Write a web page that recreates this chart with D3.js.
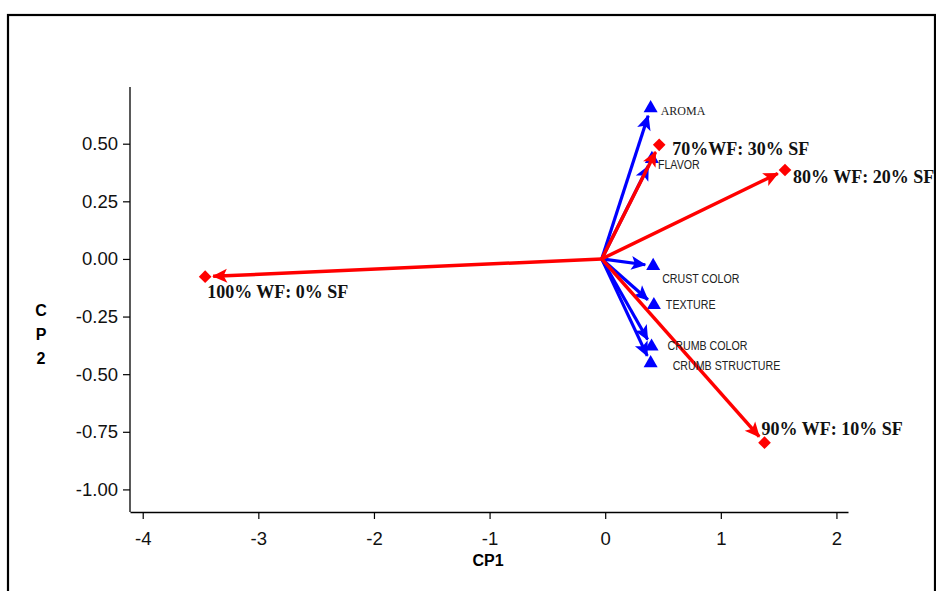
<!DOCTYPE html>
<html>
<head>
<meta charset="utf-8">
<script src="https://cdn.jsdelivr.net/npm/d3@7"></script>
<style>
  html, body { margin: 0; padding: 0; background: #fff; }
  svg { display: block; }
</style>
</head>
<body>
<svg id="chart" width="936" height="591"></svg>
<script>
// ---- data ----
const xTicks = [-4, -3, -2, -1, 0, 1, 2];
const yTicks = [0.5, 0.25, 0, -0.25, -0.5, -0.75, -1.0];

const origin = [-0.03, 0.0];

const sampleLabels = ["100% WF: 0% SF", "70%WF: 30% SF", "80% WF: 20% SF", "90% WF: 10% SF"];
const sampleCP1 = [-3.46, 0.467, 1.555, 1.378];
const sampleCP2 = [-0.077, 0.495, 0.386, -0.797];

const attributeLabels = ["AROMA", "FLAVOR", "CRUST COLOR", "TEXTURE", "CRUMB COLOR", "CRUMB STRUCTURE"];
const attributeCP1 = [0.393, 0.404, 0.415, 0.421, 0.401, 0.393];
const attributeCP2 = [0.654, 0.434, -0.030, -0.200, -0.380, -0.452];

// ---- layout ----
const svg = d3.select("#chart");
const x = d3.scaleLinear().domain([-4.11, 2.10]).range([130, 848]);
const y = d3.scaleLinear().domain([-1.098, 0.746]).range([512, 87]);

const RED = "#ff0000", BLUE = "#0000ff";

// outer frame
svg.append("rect")
  .attr("x", 8).attr("y", 15).attr("width", 927).attr("height", 600)
  .attr("fill", "none").attr("stroke", "#000").attr("stroke-width", 2.2);

// axes
const hyphen = f => d => f(d).replace("\u2212", "-");
const xAxis = d3.axisBottom(x).tickValues(xTicks).tickFormat(hyphen(d3.format("d"))).tickSizeInner(7).tickSizeOuter(0).tickPadding(13);
const yAxis = d3.axisLeft(y).tickValues(yTicks).tickFormat(hyphen(d3.format(".2f"))).tickSizeInner(7).tickSizeOuter(0).tickPadding(5);

const gx = svg.append("g").attr("transform", "translate(0,512)").call(xAxis);
const gy = svg.append("g").attr("transform", "translate(130,0)").call(yAxis);
[gx, gy].forEach(g => {
  g.select(".domain").attr("stroke", "#000").attr("stroke-width", 1.3);
  g.selectAll(".tick line").attr("stroke", "#000").attr("stroke-width", 1.2);
  g.selectAll(".tick text").attr("fill", "#111")
    .style("font-family", "'Liberation Sans', Arial, sans-serif").style("font-size", "18.5px");
});
gy.select(".domain").attr("d", `M0,${y.range()[1]}V${y.range()[0]}`);

// axis titles
svg.append("text").attr("x", 488).attr("y", 566).attr("text-anchor", "middle")
  .style("font-family", "'Liberation Sans', Arial, sans-serif").style("font-size", "16px").style("font-weight", "bold")
  .text("CP1");
const cp2 = svg.append("text").attr("text-anchor", "middle")
  .style("font-family", "'Liberation Sans', Arial, sans-serif").style("font-size", "16px").style("font-weight", "bold");
["C", "P", "2"].forEach((c, i) => {
  cp2.append("tspan").attr("x", 41).attr("y", 316 + i * 24).text(c);
});

// arrow markers
const defs = svg.append("defs");
function marker(id, color) {
  defs.append("marker").attr("id", id)
    .attr("viewBox", "-1 -8 17 16").attr("refX", 14).attr("refY", 0)
    .attr("markerWidth", 17).attr("markerHeight", 16)
    .attr("markerUnits", "userSpaceOnUse").attr("orient", "auto")
    .append("path").attr("d", "M0,-7L15,0L0,7L3.5,0Z").attr("fill", color);
}
marker("arrBlue", BLUE);
marker("arrRed", RED);

function shortened(px, py, gap) {
  const ox = x(origin[0]), oy = y(origin[1]);
  const dx = px - ox, dy = py - oy, L = Math.hypot(dx, dy);
  return [ox, oy, px - dx / L * gap, py - dy / L * gap];
}

const attrs = attributeLabels.map((l, i) => ({ label: l, cx: attributeCP1[i], cy: attributeCP2[i] }));
const samples = sampleLabels.map((l, i) => ({ label: l, cx: sampleCP1[i], cy: sampleCP2[i] }));

// blue arrows
svg.append("g").selectAll("line").data(attrs).join("line")
  .each(function (d) {
    const s = shortened(x(d.cx), y(d.cy), 8);
    d3.select(this).attr("x1", s[0]).attr("y1", s[1]).attr("x2", s[2]).attr("y2", s[3]);
  })
  .attr("stroke", BLUE).attr("stroke-width", 3.2).attr("marker-end", "url(#arrBlue)");

svg.append("g").selectAll("path").data(attrs).join("path")
  .attr("transform", d => `translate(${x(d.cx)},${y(d.cy)})`)
  .attr("d", d3.symbol(d3.symbolTriangle, 85)())
  .attr("fill", BLUE);

// red arrows
svg.append("g").selectAll("line").data(samples).join("line")
  .each(function (d) {
    const s = shortened(x(d.cx), y(d.cy), 8);
    d3.select(this).attr("x1", s[0]).attr("y1", s[1]).attr("x2", s[2]).attr("y2", s[3]);
  })
  .attr("stroke", RED).attr("stroke-width", 3.5).attr("marker-end", "url(#arrRed)");

svg.append("g").selectAll("path").data(samples).join("path")
  .attr("transform", d => `translate(${x(d.cx)},${y(d.cy)}) rotate(45)`)
  .attr("d", d3.symbol(d3.symbolSquare, 80)())
  .attr("fill", RED);

// labels
const attrOffsets = [[10, 7], [6, 10], [9, 17], [12, 4], [16, 3], [22, 7]];
svg.append("g").selectAll("text").data(attrs).join("text")
  .attr("transform", (d, i) => `translate(${x(d.cx) + attrOffsets[i][0]},${y(d.cy) + attrOffsets[i][1]}) scale(${i === 0 ? 1 : 0.82},1)`)
  .attr("fill", "#222")
  .style("font-family", (d, i) => i === 0 ? "'Liberation Serif', 'Times New Roman', serif" : "'Liberation Sans', Arial, sans-serif")
  .style("font-size", (d, i) => i === 0 ? "12px" : "13px")
  .text(d => d.label);

const sampleOffsets = [[2, 21], [13, 10], [8, 13], [-3, -8]];
svg.append("g").selectAll("text").data(samples).join("text")
  .attr("x", (d, i) => x(d.cx) + sampleOffsets[i][0])
  .attr("y", (d, i) => y(d.cy) + sampleOffsets[i][1])
  .attr("fill", "#111")
  .style("font-family", "'Liberation Serif', 'Times New Roman', serif")
  .style("font-size", "18px").style("font-weight", "bold")
  .text(d => d.label);
</script>
</body>
</html>
